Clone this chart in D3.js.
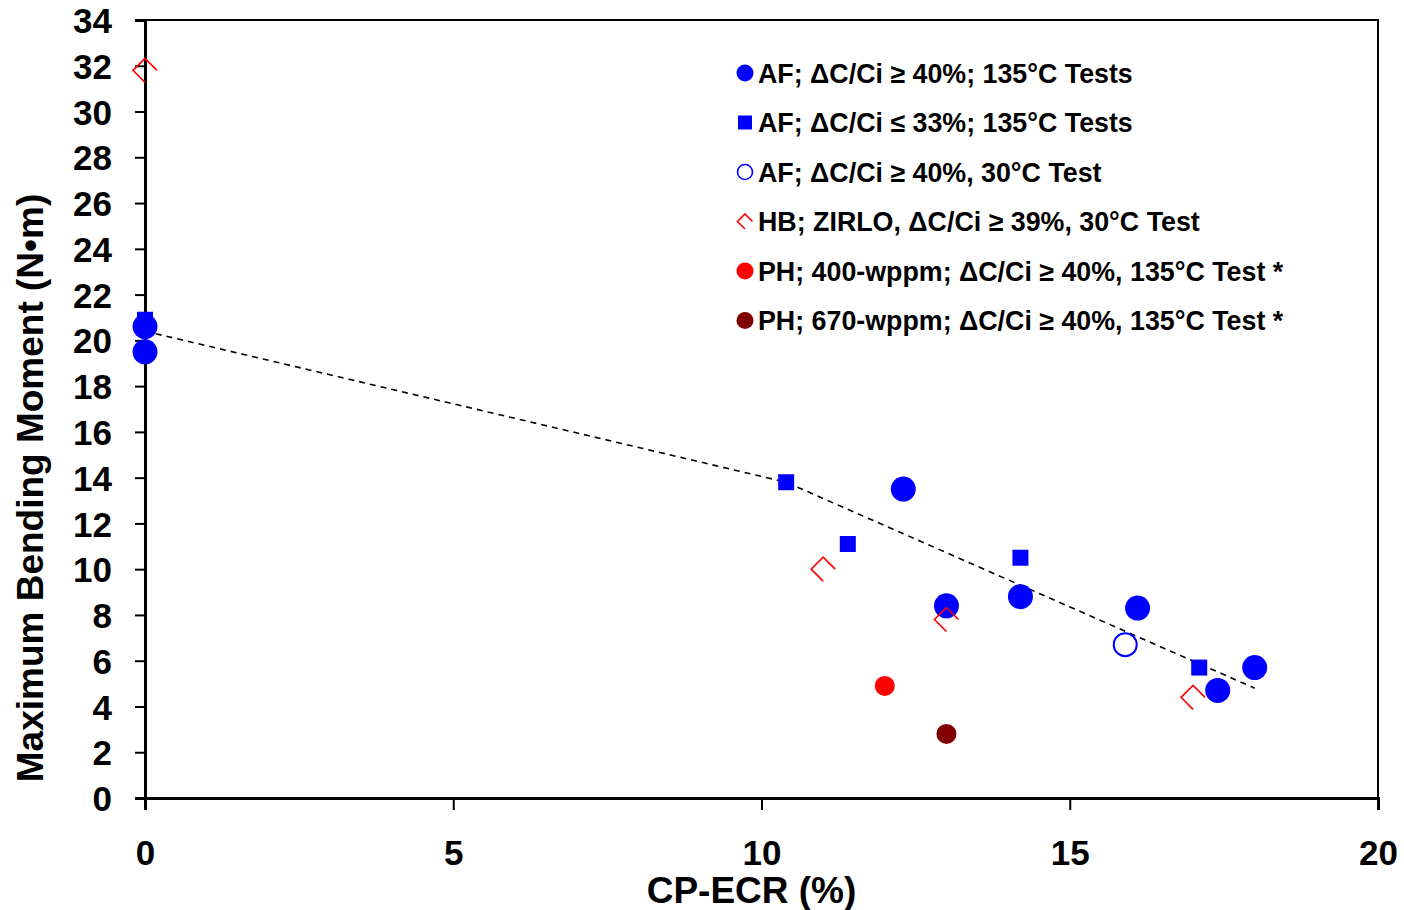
<!DOCTYPE html>
<html>
<head>
<meta charset="utf-8">
<script src="https://cdn.jsdelivr.net/npm/d3@7"></script>
<style>
  body { margin: 0; background: #fff; }
  text { font-family: "Liberation Sans", Arial, sans-serif; font-weight: bold; }
</style>
</head>
<body>
<svg id="chart" width="1404" height="910"></svg>
<script>
// data
const afHot40 = [[0, 20.6], [0, 19.5], [12.3, 13.5], [13.0, 8.4], [14.2, 8.8], [16.1, 8.3], [17.4, 4.7], [18.0, 5.7]];
const afHot33 = [[0, 20.9], [10.4, 13.8], [11.4, 11.1], [14.2, 10.5], [17.1, 5.7]];
const afCold40 = [[15.9, 6.7]];
const hbZirlo = [[0, 31.8], [11.0, 10.0], [13.0, 7.8], [17.0, 4.4]];
const ph400 = [[12.0, 4.9]];
const ph670 = [[13.0, 2.8]];
const trend = [[0, 20.4], [10.4, 13.8], [18.0, 4.8]];

const xTicks = [0, 5, 10, 15, 20];
const yTicks = d3.range(0, 35, 2);

const legendLabels = [
  "AF; \u0394C/Ci \u2265 40%; 135\u00B0C Tests",
  "AF; \u0394C/Ci \u2264 33%; 135\u00B0C Tests",
  "AF; \u0394C/Ci \u2265 40%, 30\u00B0C Test",
  "HB; ZIRLO, \u0394C/Ci \u2265 39%, 30\u00B0C Test",
  "PH; 400-wppm; \u0394C/Ci \u2265 40%, 135\u00B0C Test *",
  "PH; 670-wppm; \u0394C/Ci \u2265 40%, 135\u00B0C Test *"
];

var margin = {top: 20, right: 26, bottom: 112, left: 145},
    width = 1404 - margin.left - margin.right,
    height = 910 - margin.top - margin.bottom;

var x = d3.scaleLinear().domain([0, 20]).range([0, width]);
var y = d3.scaleLinear().domain([0, 34]).range([height, 0]);

var svg = d3.select("#chart")
  .append("g")
  .attr("transform", "translate(" + margin.left + "," + margin.top + ")");

// frame
svg.append("rect")
  .attr("width", width).attr("height", height)
  .attr("fill", "none").attr("stroke", "#000").attr("stroke-width", 2);

// axes
var xAxis = svg.append("g")
  .attr("transform", "translate(0," + height + ")")
  .call(d3.axisBottom(x).tickValues(xTicks).tickSize(12).tickFormat(d3.format("d")));
var yAxis = svg.append("g")
  .call(d3.axisLeft(y).tickValues(yTicks).tickSize(10).tickFormat(d3.format("d")));

[xAxis, yAxis].forEach(g => {
  g.select(".domain").attr("stroke-width", 3);
  g.selectAll(".tick line").attr("stroke-width", 2);
  g.selectAll(".tick text").attr("font-size", 35).attr("fill", "#000")
    .style("font-family", "'Liberation Sans', Arial, sans-serif").style("font-weight", "bold");
});
xAxis.selectAll(".tick text").attr("dy", 0).attr("y", 67);
yAxis.selectAll(".tick text").attr("x", -33).attr("dy", "0.36em");

// axis titles
svg.append("text")
  .attr("x", x(10) - 10).attr("y", height + 105)
  .attr("text-anchor", "middle").attr("font-size", 37)
  .text("CP-ECR (%)");
svg.append("text")
  .attr("transform", "translate(" + (-102) + "," + 468 + ") rotate(-90)")
  .attr("text-anchor", "middle").attr("font-size", 37)
  .text("Maximum Bending Moment (N\u2022m)");

// trend line
svg.append("path")
  .datum(trend)
  .attr("fill", "none").attr("stroke", "#000").attr("stroke-width", 1.6)
  .attr("stroke-dasharray", "6,5")
  .attr("d", d3.line().x(d => x(d[0])).y(d => y(d[1])));

// marker helpers
function hbPath(r) {
  return "M" + r + ",0 L0," + (-r) + " L" + (-r) + ",0 L0," + r;
}
function drawMarker(g, kind) {
  if (kind === 0) g.append("circle").attr("r", 12.5).attr("fill", "#0000ff");
  else if (kind === 1) g.append("rect").attr("x", -8).attr("y", -8).attr("width", 16).attr("height", 16).attr("fill", "#0000ff");
  else if (kind === 2) g.append("circle").attr("r", 11.5).attr("fill", "none").attr("stroke", "#0000ff").attr("stroke-width", 2);
  else if (kind === 3) g.append("path").attr("d", hbPath(12)).attr("fill", "none").attr("stroke", "#ff0000").attr("stroke-width", 1.6);
  else if (kind === 4) g.append("circle").attr("r", 10).attr("fill", "#ff0000");
  else g.append("circle").attr("r", 10).attr("fill", "#800000");
}

var seriesList = [afHot40, afHot33, afCold40, hbZirlo, ph400, ph670];
seriesList.forEach((series, k) => {
  svg.append("g").selectAll("g")
    .data(series)
    .enter().append("g")
    .attr("transform", d => "translate(" + x(d[0]) + "," + y(d[1]) + ")")
    .each(function() { drawMarker(d3.select(this), k); });
});

// legend
var legend = svg.append("g").attr("transform", "translate(600,53)");
legendLabels.forEach((label, i) => {
  var row = legend.append("g").attr("transform", "translate(0," + (i * 49.5) + ")");
  var m = row.append("g");
  if (i === 0) m.append("circle").attr("r", 8.5).attr("fill", "#0000ff");
  else if (i === 1) m.append("rect").attr("x", -7).attr("y", -7).attr("width", 14).attr("height", 14).attr("fill", "#0000ff");
  else if (i === 2) m.append("circle").attr("r", 7.5).attr("fill", "none").attr("stroke", "#0000ff").attr("stroke-width", 1.6);
  else if (i === 3) m.append("path").attr("d", hbPath(7.5)).attr("fill", "none").attr("stroke", "#ff0000").attr("stroke-width", 1.6);
  else if (i === 4) m.append("circle").attr("r", 8.5).attr("fill", "#ff0000");
  else m.append("circle").attr("r", 8.5).attr("fill", "#800000");
  row.append("text")
    .attr("x", 13).attr("dy", "0.36em")
    .attr("font-size", 26.8)
    .text(label);
});
</script>
</body>
</html>
